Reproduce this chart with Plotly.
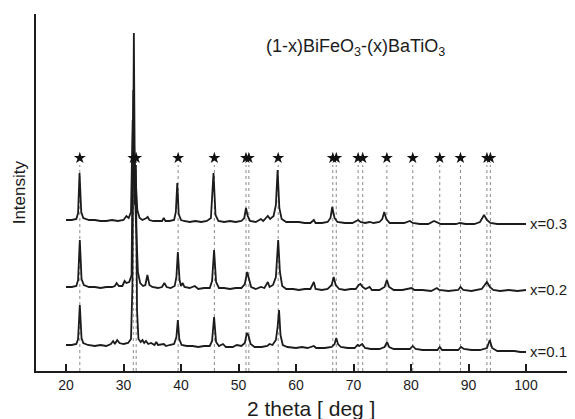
import plotly.graph_objects as go

# ---------------- data ----------------
# 2-theta (deg) and intensity (a.u.) pairs for each composition
x01 = [(20.0,10),(21.0,10),(21.8,11),(22.1,16),(22.4,50),(22.7,17),(23.0,12),(23.8,10),(25.0,9),(26.0,10),
       (27.0,9),(27.8,11),(28.2,14),(28.5,11),(28.9,15),(29.3,12),(30.0,11),(30.8,12),(31.3,16),(31.55,70),
       (31.8,322),(32.0,150),(32.15,190),(32.35,45),(32.6,16),(33.0,13),(33.3,15),(33.6,12),(33.9,14),(34.3,11),
       (34.8,12),(35.4,10),(35.7,13),(36.0,10),(37.0,11),(37.4,9),(38.0,10),(38.8,11),(39.2,18),(39.45,35),
       (39.7,16),(40.1,10),(41.0,9),(42.0,9),(43.0,8),(44.0,9),(45.0,9),(45.4,14),(45.75,38),(46.1,13),
       (46.6,9),(47.3,11),(47.8,8),(49.0,8),(49.7,10),(50.5,9),(51.1,12),(51.45,22),(51.7,20),(52.1,11),
       (52.8,8),(54.0,8),(55.0,9),(55.4,11),(55.9,10),(56.5,15),(56.8,28),(57.05,45),(57.3,20),(57.7,10),
       (58.5,8),(60.0,7),(61.0,8),(62.0,7),(63.1,9),(63.5,7),(64.0,7),(65.0,7),(66.2,8),(66.7,11),
       (67.0,17),(67.3,11),(67.8,8),(69.0,7),(70.2,7),(70.7,10),(71.0,9),(71.5,11),(72.0,7),(73.0,6),
       (74.5,6),(75.4,8),(75.85,13),(76.2,8),(77.0,6),(78.5,6),(79.8,6),(80.3,9),(80.8,6),(82.0,5),
       (83.5,5),(84.6,5),(85.0,8),(85.4,5),(86.5,5),(88.2,5),(88.7,8),(89.2,6),(90.5,5),(92.0,5),
       (93.2,7),(93.7,15),(94.1,7),(95.0,4),(96.5,4),(98.0,4),(99.0,3),(100.0,3)]

x02 = [(20.0,10),(21.0,10),(21.8,11),(22.1,17),(22.4,57),(22.7,18),(23.1,12),(24.0,10),(25.0,10),(26.0,9),
       (27.0,10),(28.0,10),(28.5,11),(28.8,14),(29.2,11),(29.8,11),(30.2,16),(30.5,14),(31.0,15),(31.4,22),
       (31.7,207),(31.95,110),(32.2,70),(32.5,25),(32.9,14),(33.4,11),(33.8,12),(34.15,22),(34.5,12),(35.0,10),
       (36.0,9),(36.7,10),(37.1,14),(37.5,10),(38.2,9),(38.9,11),(39.2,20),(39.45,45),(39.75,17),(40.0,11),
       (40.3,14),(40.6,10),(41.5,9),(42.4,11),(43.0,8),(44.0,9),(45.0,9),(45.4,16),(45.75,47),(46.1,15),
       (46.6,9),(47.5,9),(48.5,8),(49.5,9),(50.5,9),(51.1,13),(51.5,25),(51.8,18),(52.2,10),(53.0,8),
       (53.9,10),(54.5,9),(55.1,15),(55.4,10),(56.0,12),(56.5,20),(56.9,57),(57.2,25),(57.6,11),(58.3,8),
       (59.5,8),(60.5,7),(61.5,8),(62.5,8),(63.1,15),(63.4,8),(64.5,7),(65.5,8),(66.2,12),(66.55,20),
       (66.9,12),(67.5,8),(68.5,7),(69.5,8),(70.4,8),(70.9,12),(71.2,13),(71.6,10),(72.1,8),(72.8,10),
       (73.2,7),(74.5,7),(75.4,10),(75.8,17),(76.2,10),(77.0,7),(78.5,7),(80.1,9),(80.6,7),(82.0,7),
       (83.5,6),(84.5,9),(84.9,7),(86.5,6),(88.2,7),(88.6,10),(89.1,7),(90.5,6),(92.3,8),(93.2,15),
       (93.7,10),(94.3,7),(95.5,6),(97.0,7),(98.5,6),(100.0,7)]

x03 = [(20.0,10),(21.0,10),(21.8,11),(22.1,17),(22.35,57),(22.65,18),(23.0,12),(24.0,10),(25.0,10),(26.0,9),
       (27.0,9),(28.0,10),(29.0,9),(30.0,10),(30.5,14),(30.9,12),(31.3,18),(31.6,110),(31.85,80),(32.1,45),
       (32.4,20),(32.8,12),(33.3,10),(34.0,12),(34.2,13),(34.5,10),(35.2,9),(36.0,9),(36.7,9),(37.0,12),
       (37.3,9),(38.0,9),(38.8,10),(39.1,18),(39.35,47),(39.6,16),(40.0,10),(40.5,9),(41.5,8),(42.5,9),
       (43.5,8),(44.5,9),(45.2,12),(45.65,57),(46.0,15),(46.5,9),(47.5,8),(48.5,9),(49.5,8),(50.5,9),
       (51.0,12),(51.3,22),(51.6,14),(52.0,9),(53.0,8),(53.9,11),(54.3,9),(55.1,14),(55.5,11),(56.1,14),
       (56.5,25),(56.8,60),(57.1,22),(57.5,11),(58.3,8),(59.5,8),(60.5,8),(61.5,7),(62.5,7),(63.1,10),
       (63.4,7),(64.5,7),(65.5,8),(66.0,12),(66.3,23),(66.7,12),(67.2,8),(68.5,7),(69.8,7),(70.8,10),
       (71.2,8),(72.0,7),(72.8,8),(73.5,7),(74.5,8),(75.0,11),(75.35,18),(75.7,11),(76.3,7),(77.5,7),
       (78.8,7),(79.8,9),(80.3,7),(81.5,6),(83.0,6),(84.0,9),(84.4,8),(85.2,6),(86.5,6),(87.8,6),
       (88.5,7),(89.5,6),(91.0,6),(92.0,8),(92.7,15),(93.2,10),(93.8,7),(95.0,6),(96.5,6),(98.0,6),
       (99.0,6),(100.0,6)]

series_names = ["x=0.1", "x=0.2", "x=0.3"]
series_data = [x01, x02, x03]
stack_offsets = [16, 74, 141]          # vertical stacking offset of each pattern (a.u.)

# reference (starred) reflection positions, 2-theta in deg
ref_peaks = [22.4, 31.7, 32.2, 39.5, 45.8, 51.3, 51.8, 56.9, 66.4, 67.0,
             70.8, 71.6, 75.8, 80.3, 85.0, 88.6, 93.2, 93.8]
star_level = 213
line_top = 206

x_ticks = [20, 30, 40, 50, 60, 70, 80, 90, 100]

# ---------------- figure ----------------
FONT = "Liberation Sans, Arial, sans-serif"
INK = "#1c1c1c"

fig = go.Figure()

# dotted reference lines
lx, ly = [], []
for p in ref_peaks:
    lx += [p, p, None]
    ly += [0, line_top, None]
fig.add_trace(go.Scatter(x=lx, y=ly, mode="lines",
                         line=dict(color="#8a8a8a", width=1, dash="dot"),
                         hoverinfo="skip", showlegend=False))

# patterns
for name, data, off in zip(series_names, series_data, stack_offsets):
    tt = [d[0] for d in data]
    ii = [d[1] + off for d in data]
    fig.add_trace(go.Scatter(x=tt, y=ii, mode="lines",
                             line=dict(color=INK, width=1.8),
                             name=name, showlegend=False))
    fig.add_annotation(x=100.3, y=data[-1][1] + off + 1, text=name, showarrow=False,
                       xanchor="left", yanchor="middle",
                       font=dict(family=FONT, size=15, color=INK))

# stars
fig.add_trace(go.Scatter(x=ref_peaks, y=[star_level] * len(ref_peaks), mode="markers",
                         marker=dict(symbol="star", size=9, color="#111111",
                                     line=dict(width=0)),
                         hoverinfo="skip", showlegend=False))

fig.add_annotation(x=70.4, y=324, xref="x", yref="y",
                   text="(1-x)BiFeO<sub>3</sub>-(x)BaTiO<sub>3</sub>",
                   showarrow=False, xanchor="center", yanchor="middle",
                   font=dict(family=FONT, size=18, color=INK))

fig.add_annotation(x=-0.03, y=0.5, xref="paper", yref="paper", text="Intensity",
                   textangle=-90, showarrow=False, xanchor="center", yanchor="middle",
                   font=dict(family=FONT, size=17, color=INK))

fig.add_annotation(x=0.51, y=-0.104, xref="paper", yref="paper", text="2 theta [ deg ]",
                   showarrow=False, xanchor="center", yanchor="middle",
                   font=dict(family=FONT, size=21, color=INK))

# the page body adds an 8 px margin, so the figure is 8 px smaller and shifted
fig.update_layout(
    width=567, height=411,
    margin=dict(l=28, r=0, t=6, b=48),
    paper_bgcolor="white", plot_bgcolor="white",
    showlegend=False,
    xaxis=dict(range=[14.78, 108.52], showgrid=False, zeroline=False,
               showline=True, linecolor=INK, linewidth=1.6,
               ticks="inside", ticklen=7, tickwidth=1.6, tickcolor=INK,
               tickvals=x_ticks, ticktext=[str(t) for t in x_ticks],
               tickfont=dict(family=FONT, size=14, color=INK)),
    yaxis=dict(range=[0, 357], showgrid=False, zeroline=False,
               showline=True, linecolor=INK, linewidth=1.6,
               showticklabels=False, ticks=""),
)

fig.write_html("out.html")
